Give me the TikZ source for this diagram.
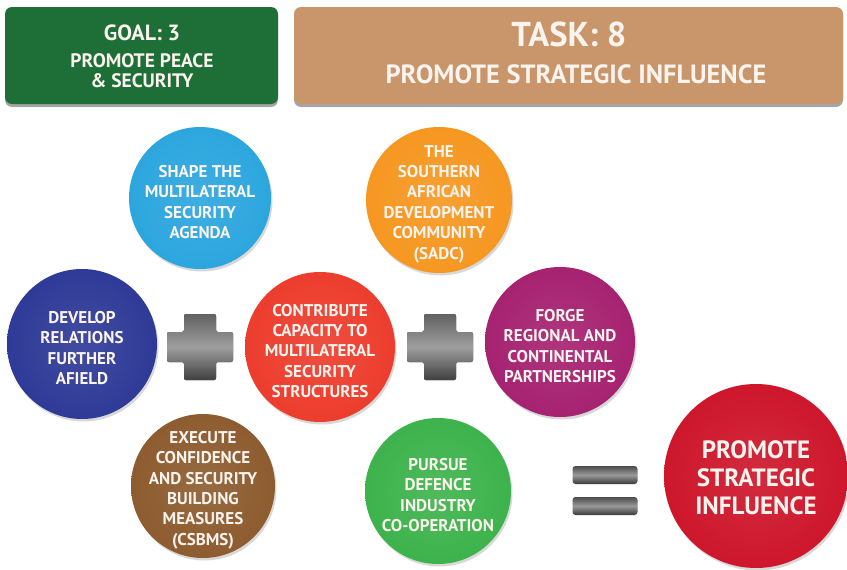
\documentclass[tikz,border=0pt]{standalone}
\usepackage{fontspec}
\setmainfont{PT Sans}
\usetikzlibrary{shadows,fadings}
\definecolor{goalgreen}{HTML}{1E6E37}
\definecolor{tasktan}{HTML}{C9956B}
\definecolor{cLB}{HTML}{2AA5DE}
\definecolor{cOR}{HTML}{F6961E}
\definecolor{cDB}{HTML}{2C3896}
\definecolor{cRD}{HTML}{EC3B2B}
\definecolor{cPU}{HTML}{A5206F}
\definecolor{cBR}{HTML}{8C5A2D}
\definecolor{cGR}{HTML}{3BB24A}
\definecolor{cBIG}{HTML}{CD1429}
\definecolor{txtw}{HTML}{FBF3EE}
\colorlet{ballc}{red}
\pgfdeclareradialshading[ballc]{rim}{\pgfpoint{0bp}{0bp}}{color(0bp)=(ballc!90!white); color(28bp)=(ballc); color(42bp)=(ballc!85!black); color(50bp)=(ballc!50!black)}
\tikzset{
  ball/.style={/utils/exec={\colorlet{ballc}{#1}}, circle, shading=rim, inner sep=0pt,
    drop shadow={shadow xshift=1.5pt, shadow yshift=-2.5pt, opacity=.3}},
  balltext/.style={text=txtw, align=center, inner sep=0pt, yshift=-4pt, font=\bfseries\fontsize{17}{20.4}\selectfont},
  bigtext/.style={balltext, yshift=2pt, font=\bfseries\fontsize{25}{28}\selectfont},
  hbox/.style={rectangle, rounded corners=7pt, fill=#1, inner sep=0pt,
    drop shadow={shadow xshift=0pt, shadow yshift=-3pt, opacity=.7}},
  htext/.style={text=txtw, font=\bfseries\fontsize{#1}{#1}\selectfont, inner sep=0pt},
  plusshape/.style={top color=black!62, bottom color=black!75, middle color=black!38},
  eqbar/.style={rectangle, rounded corners=3pt, minimum width=65pt, minimum height=18pt,
    top color=black!70, bottom color=black!78, middle color=black!40, inner sep=0pt}
}
\begin{document}
\begin{tikzpicture}[x=1pt,y=-1pt]
\useasboundingbox (0,0) rectangle (847,570);
\fill[white] (0,0) rectangle (847,570);
% header boxes
\node[hbox=goalgreen, minimum width=273pt, minimum height=97pt] (goal) at (141.5,55.5) {};
\node[htext=22] (goalt) at (142,33) {GOAL: 3};
\node[htext=19.5] (goals1) at (142,61) {PROMOTE PEACE};
\node[htext=19.5] (goals2) at (142,81) {\&\ SECURITY};
\node[hbox=tasktan, minimum width=549pt, minimum height=97pt] (task) at (568.5,55.5) {};
\node[htext=34.5] (taskt) at (569,34) {TASK: 8};
\node[htext=26.4] (tasks) at (576,74) {PROMOTE STRATEGIC INFLUENCE};
% circles
\node[ball=cLB, minimum size=142pt, label={[balltext]center:{SHAPE THE\\MULTILATERAL\\SECURITY\\AGENDA}}] (shape) at (200,198) {};
\node[ball=cOR, minimum size=146pt, label={[balltext]center:{THE\\SOUTHERN\\AFRICAN\\DEVELOPMENT\\COMMUNITY\\(SADC)}}] (sadc) at (439,200) {};
\node[ball=cDB, minimum size=150pt, label={[balltext]center:{DEVELOP\\RELATIONS\\FURTHER\\AFIELD}}] (develop) at (82,344) {};
\node[ball=cRD, minimum size=150pt, label={[balltext]center:{CONTRIBUTE\\CAPACITY TO\\MULTILATERAL\\SECURITY\\STRUCTURES}}] (contrib) at (320,347) {};
\node[ball=cPU, minimum size=150pt, label={[balltext]center:{FORGE\\REGIONAL AND\\CONTINENTAL\\PARTNERSHIPS}}] (forge) at (560,342) {};
\node[ball=cBR, minimum size=144pt, label={[balltext]center:{EXECUTE\\CONFIDENCE\\AND SECURITY\\BUILDING\\MEASURES\\(CSBMS)}}] (execute) at (203,486) {};
\node[ball=cGR, minimum size=146pt, label={[balltext]center:{PURSUE\\DEFENCE\\INDUSTRY\\CO-OPERATION}}] (pursue) at (438,491) {};
\node[ball=cBIG, minimum size=184pt, label={[bigtext]center:{PROMOTE\\STRATEGIC\\INFLUENCE}}] (promote) at (756,476) {};
% plus signs
\coordinate (plusA) at (200,347);
\coordinate (plusB) at (440,347);
\foreach \p in {plusA,plusB}{
  \begin{scope}[shift={(\p)}]
    \fill[plusshape, rounded corners=2pt] (-33,-15) -- (-16,-15) -- (-16,-33) -- (16,-33) -- (16,-15) -- (33,-15) -- (33,15) -- (16,15) -- (16,33) -- (-16,33) -- (-16,15) -- (-33,15) -- cycle;
  \end{scope}
}
% equals
\node[eqbar] (eq1) at (605,475) {};
\node[eqbar] (eq2) at (605,506) {};
\end{tikzpicture}
\end{document}
